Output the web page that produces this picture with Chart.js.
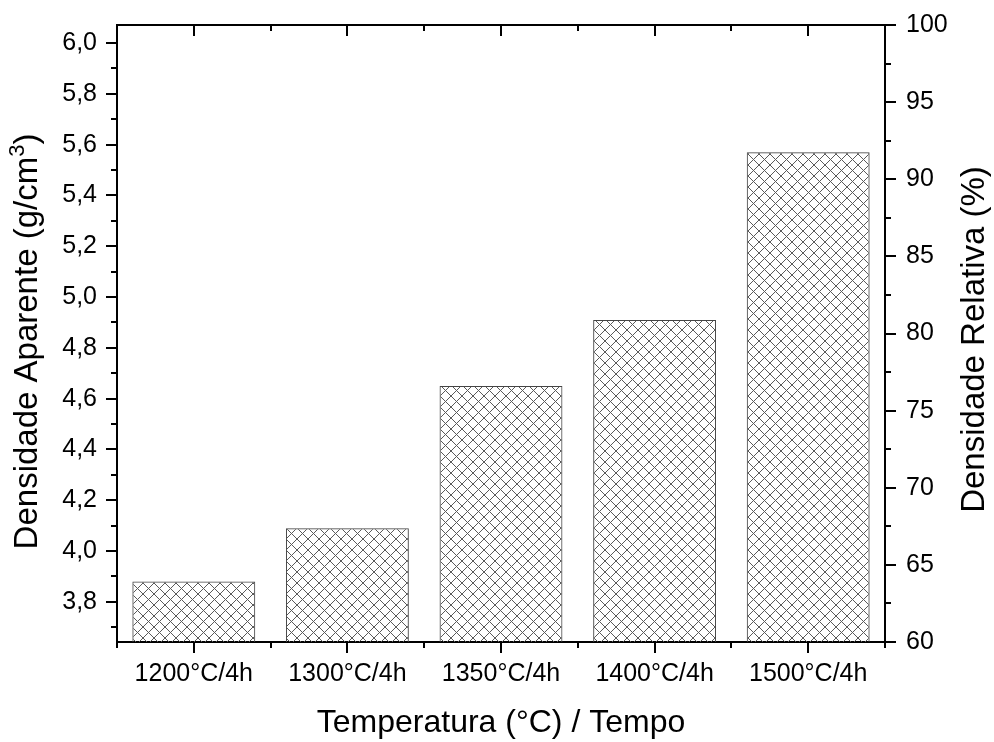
<!DOCTYPE html>
<html lang="pt">
<head>
<meta charset="utf-8">
<title>Densidade aparente e relativa</title>
<script src="https://cdn.jsdelivr.net/npm/chart.js@4"></script>
<style>
  html, body { margin: 0; padding: 0; background: #fff; }
  canvas { display: block; }
</style>
</head>
<body>
<canvas id="graficoDensidade" width="994" height="742"></canvas>
<script>
// Condições de sinterização e densidade aparente medida (g/cm³)
var categorias = ['1200°C/4h', '1300°C/4h', '1350°C/4h', '1400°C/4h', '1500°C/4h'];
var densidadeAparente = [3.88, 4.09, 4.65, 4.91, 5.57];

// Marcas dos eixos
var ticksDensidade = [3.8, 4.0, 4.2, 4.4, 4.6, 4.8, 5.0, 5.2, 5.4, 5.6, 5.8, 6.0];
var menoresDensidade = [3.7, 3.9, 4.1, 4.3, 4.5, 4.7, 4.9, 5.1, 5.3, 5.5, 5.7, 5.9];
var ticksRelativa = [60, 65, 70, 75, 80, 85, 90, 95, 100];
var menoresRelativa = [62.5, 67.5, 72.5, 77.5, 82.5, 87.5, 92.5, 97.5];

var fonte = "'Liberation Sans', Arial, sans-serif";

var ctx = document.getElementById('graficoDensidade').getContext('2d');

// Hachura cruzada dos bares
function criarHachura() {
    var n = 11;
    var c = document.createElement('canvas');
    c.width = n;
    c.height = n;
    var g = c.getContext('2d');
    g.strokeStyle = '#5a5a5a';
    g.lineWidth = 1;
    g.beginPath();
    g.moveTo(0, 0); g.lineTo(n, n);
    g.moveTo(n, 0); g.lineTo(0, n);
    g.stroke();
    return ctx.createPattern(c, 'repeat');
}

// Marcas menores, linha superior com marcas internas e títulos verticais
var marcasExtras = {
    id: 'marcasExtras',
    afterDraw: function (chart) {
        var a = chart.chartArea;
        var s = chart.scales;
        var c = chart.ctx;
        c.save();
        c.strokeStyle = '#000';
        c.lineWidth = 2;
        c.beginPath();
        c.moveTo(a.left - 1, a.top);
        c.lineTo(a.right + 1, a.top);
        menoresDensidade.forEach(function (v) {
            var y = Math.round(s.y.getPixelForValue(v));
            c.moveTo(a.left - 6, y); c.lineTo(a.left, y);
        });
        menoresRelativa.forEach(function (v) {
            var y = Math.round(s.y2.getPixelForValue(v));
            c.moveTo(a.right, y); c.lineTo(a.right + 6, y);
        });
        for (var i = 0; i <= categorias.length; i++) {
            var px = Math.round(s.x.getPixelForValue(i - 0.5));
            c.moveTo(px, a.bottom); c.lineTo(px, a.bottom + 6);
            if (i > 0 && i < categorias.length) {
                c.moveTo(px, a.top); c.lineTo(px, a.top + 6);
            }
        }
        categorias.forEach(function (cat, i) {
            var px = Math.round(s.x.getPixelForValue(i));
            c.moveTo(px, a.top); c.lineTo(px, a.top + 11);
        });
        c.stroke();

        // títulos dos eixos y, lidos de baixo para cima
        c.fillStyle = '#000';
        c.textBaseline = 'middle';
        c.textAlign = 'left';
        var grande = '33px ' + fonte;
        var pequeno = '22px ' + fonte;

        var t1 = 'Densidade Aparente (g/cm', t2 = '3', t3 = ')';
        c.font = grande;
        var w1 = c.measureText(t1).width, w3 = c.measureText(t3).width;
        c.font = pequeno;
        var w2 = c.measureText(t2).width;
        var total = w1 + w2 + w3;
        c.save();
        c.translate(28, (a.top + a.bottom) / 2 + 8);
        c.rotate(-Math.PI / 2);
        c.font = grande;
        c.fillText(t1, -total / 2, 0);
        c.font = pequeno;
        c.fillText(t2, -total / 2 + w1, -10);
        c.font = grande;
        c.fillText(t3, -total / 2 + w1 + w2, 0);
        c.restore();

        c.save();
        c.translate(975, (a.top + a.bottom) / 2 + 6);
        c.rotate(-Math.PI / 2);
        c.font = grande;
        c.textAlign = 'center';
        c.fillText('Densidade Relativa (%)', 0, 0);
        c.restore();

        c.restore();
    }
};

var grade = {
    drawOnChartArea: false,
    color: '#000',
    lineWidth: 2,
    tickLength: 11,
    tickWidth: 2
};

new Chart(ctx, {
    type: 'bar',
    data: {
        labels: categorias,
        datasets: [{
            label: 'Densidade Aparente',
            data: densidadeAparente,
            yAxisID: 'y',
            backgroundColor: criarHachura(),
            borderColor: '#444',
            borderWidth: 1,
            barPercentage: 0.8,
            categoryPercentage: 1.0
        }]
    },
    options: {
        responsive: false,
        animation: false,
        layout: { padding: { top: 24, left: 0, right: 0, bottom: 0 } },
        plugins: {
            legend: { display: false },
            tooltip: { enabled: false }
        },
        scales: {
            x: {
                offset: true,
                grid: Object.assign({}, grade, { offset: false }),
                border: { color: '#000', width: 2 },
                ticks: {
                    color: '#000',
                    padding: 6,
                    maxRotation: 0,
                    font: { family: fonte, size: 25 }
                },
                title: {
                    display: true,
                    text: 'Temperatura (°C) / Tempo',
                    color: '#000',
                    font: { family: fonte, size: 32, lineHeight: 1 },
                    padding: { top: 0, bottom: 3 }
                },
                afterFit: function (scale) { scale.height = 100; }
            },
            y: {
                position: 'left',
                min: 3.642,
                max: 6.071,
                grid: grade,
                border: { color: '#000', width: 2 },
                afterBuildTicks: function (scale) {
                    scale.ticks = ticksDensidade.map(function (v) { return { value: v }; });
                },
                ticks: {
                    color: '#000',
                    padding: 9,
                    font: { family: fonte, size: 25 },
                    callback: function (v) { return v.toFixed(1).replace('.', ','); }
                },
                afterFit: function (scale) { scale.width = 117; }
            },
            y2: {
                position: 'right',
                min: 60,
                max: 100,
                grid: grade,
                border: { color: '#000', width: 2 },
                afterBuildTicks: function (scale) {
                    scale.ticks = ticksRelativa.map(function (v) { return { value: v }; });
                },
                ticks: {
                    color: '#000',
                    padding: 10,
                    font: { family: fonte, size: 25 },
                    callback: function (v) { return String(v); }
                },
                afterFit: function (scale) { scale.width = 109; }
            }
        }
    },
    plugins: [marcasExtras]
});
</script>
</body>
</html>
